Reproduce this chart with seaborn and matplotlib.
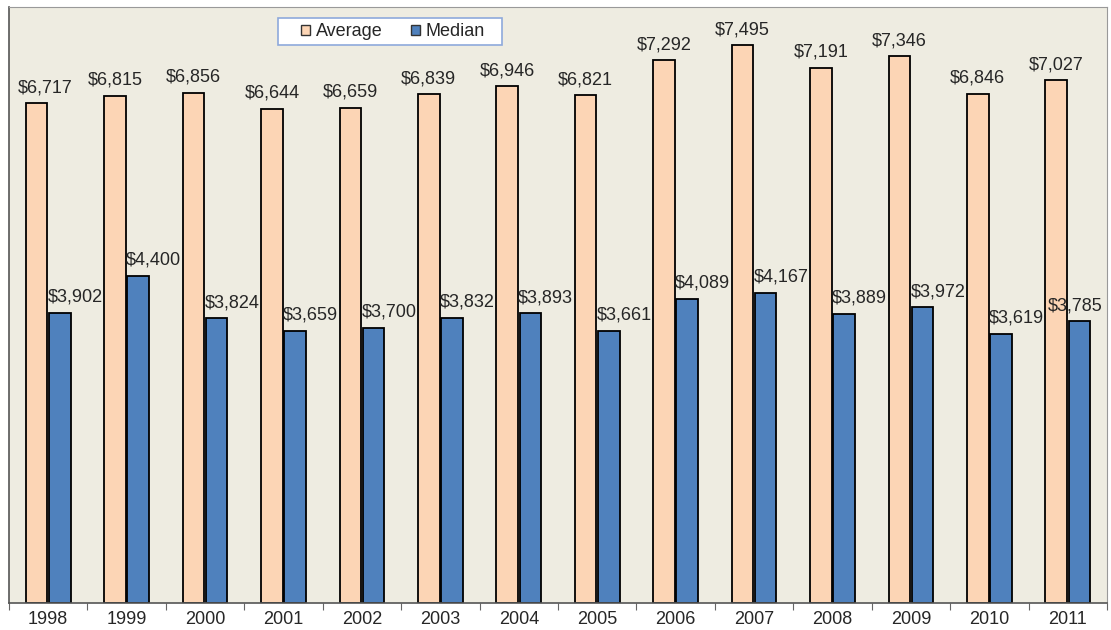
import matplotlib
matplotlib.use("Agg")
import matplotlib.pyplot as plt
import seaborn as sns
import pandas as pd
from matplotlib.patches import Rectangle
from matplotlib.ticker import FixedLocator

# Data
years = ["1998", "1999", "2000", "2001", "2002", "2003", "2004",
         "2005", "2006", "2007", "2008", "2009", "2010", "2011"]
average = [6717, 6815, 6856, 6644, 6659, 6839, 6946,
           6821, 7292, 7495, 7191, 7346, 6846, 7027]
median = [3902, 4400, 3824, 3659, 3700, 3832, 3893,
          3661, 4089, 4167, 3889, 3972, 3619, 3785]

df = pd.DataFrame({"year": years * 2,
                   "value": average + median,
                   "kind": ["Average"] * len(years) + ["Median"] * len(years)})

sns.set_style("white")
plt.rcParams["font.family"] = ["Liberation Sans", "DejaVu Sans"]

fig = plt.figure(figsize=(11.11, 6.3), dpi=100)
ax = fig.add_axes([0.0081, 0.0429, 0.9883, 0.946])
ax.set_facecolor("#EEECE1")

palette = {"Average": "#FCD5B5", "Median": "#4F81BD"}
sns.barplot(data=df, x="year", y="value", hue="kind", palette=palette,
            width=0.59, gap=0.07, edgecolor="black", linewidth=1.3,
            saturation=1, ax=ax)

# value labels: Average centred over the bar, Median starting at the bar's left edge
avg_bars, med_bars = ax.containers[0], ax.containers[1]
for i, bar in enumerate(avg_bars):
    h = bar.get_height()
    if i == 0:
        # keep the first label clear of the left edge
        ax.annotate(f"${h:,.0f}", (bar.get_x(), h),
                    xytext=(-6, 8), textcoords="offset points",
                    ha="left", va="baseline", fontsize=13)
    else:
        ax.annotate(f"${h:,.0f}", (bar.get_x() + bar.get_width() / 2, h),
                    xytext=(0, 8), textcoords="offset points",
                    ha="center", va="baseline", fontsize=13)
for i, bar in enumerate(med_bars):
    h = bar.get_height()
    if i == len(med_bars) - 1:
        ax.annotate(f"${h:,.0f}", (bar.get_x() + bar.get_width(), h),
                    xytext=(9, 8), textcoords="offset points",
                    ha="right", va="baseline", fontsize=13)
    else:
        ax.annotate(f"${h:,.0f}", (bar.get_x(), h),
                    xytext=(-1, 8), textcoords="offset points",
                    ha="left", va="baseline", fontsize=13)

ax.set_ylim(0, 8010)
ax.set_xlim(-0.5, len(years) - 0.5)
ax.set_yticks([])
ax.set_xlabel("")
ax.set_ylabel("")
ax.tick_params(axis="x", which="major", length=0, labelsize=13, pad=6)
ax.xaxis.set_minor_locator(FixedLocator([i - 0.5 for i in range(len(years) + 1)]))
ax.tick_params(axis="x", which="minor", length=5, width=0.8, color="#666666",
               bottom=True)

for side in ["left", "bottom"]:
    ax.spines[side].set_color("#555555")
    ax.spines[side].set_linewidth(1.2)
for side in ["top", "right"]:
    ax.spines[side].set_color("#999999")
    ax.spines[side].set_linewidth(0.8)

# legend box (wider than matplotlib's own frame, as in the original)
box = Rectangle((0.245, 0.936), 0.204, 0.0453, transform=ax.transAxes,
                facecolor="white", edgecolor="#8EA9DB", linewidth=1.2,
                zorder=5, clip_on=False)
ax.add_patch(box)
leg = ax.legend(loc="center", bbox_to_anchor=(0.3497, 0.9585), ncol=2,
                frameon=False, fontsize=13,
                handlelength=0.5, handleheight=0.5, handletextpad=0.33,
                columnspacing=1.55, borderpad=0, borderaxespad=0)
leg.set_zorder(6)
for h in leg.legend_handles:
    h.set_edgecolor("#333333")
    h.set_linewidth(1.0)

fig.savefig("out.png", dpi=100)
